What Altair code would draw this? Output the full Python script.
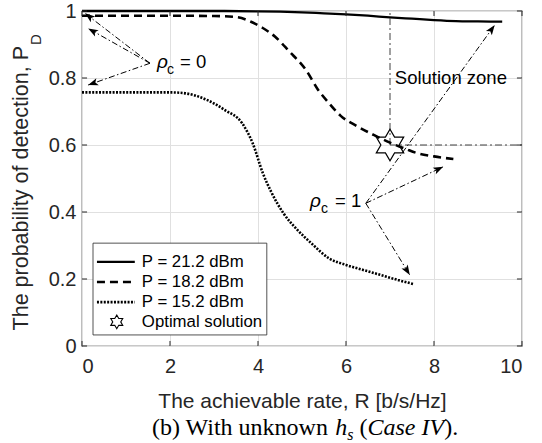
import math
import altair as alt
import pandas as pd

# ---------------- data ----------------
R_21 = [0, 1, 2, 3, 4, 4.5, 5, 5.5, 6, 6.5, 7, 7.5, 8, 8.5, 9, 9.55]
PD_21 = [1.0, 1.0, 1.0, 1.0, 0.999, 0.998, 0.996, 0.993, 0.99, 0.986, 0.981,
         0.977, 0.973, 0.970, 0.969, 0.968]

R_18 = [0, 1, 2, 3, 3.5, 3.84, 4.1, 4.39, 4.7, 5.1, 5.36, 5.62, 5.88, 6.24,
        6.63, 7.0, 7.38, 7.61, 8.0, 8.44]
PD_18 = [0.986, 0.986, 0.986, 0.985, 0.982, 0.968, 0.95, 0.923, 0.881, 0.822,
         0.766, 0.724, 0.687, 0.657, 0.630, 0.607, 0.587, 0.576, 0.566, 0.558]

R_15 = [0, 1, 2, 2.23, 2.85, 3.25, 3.64, 3.88, 4.11, 4.3, 4.58, 4.9, 5.21,
        5.61, 6.0, 6.39, 6.79, 7.18, 7.53]
PD_15 = [0.757, 0.757, 0.757, 0.756, 0.734, 0.704, 0.665, 0.605, 0.516, 0.46,
         0.396, 0.346, 0.307, 0.262, 0.242, 0.227, 0.212, 0.197, 0.185]

STAR_R = [7.0]
STAR_PD = [0.6]

X_TICKS = [0, 2, 4, 6, 8, 10]
Y_TICKS = [0, 0.2, 0.4, 0.6, 0.8, 1.0]

LEGEND_LABELS = ["P = 21.2 dBm", "P = 18.2 dBm", "P = 15.2 dBm", "Optimal solution"]
LEGEND_ROW_PD = [0.251, 0.191, 0.131, 0.072]

ARROW_FROM_R = [1.545, 1.545, 1.545, 6.45, 6.45, 6.45]
ARROW_FROM_PD = [0.844, 0.844, 0.844, 0.426, 0.426, 0.426]
ARROW_TO_R = [0.07, 0.14, 0.14, 9.38, 8.21, 7.45]
ARROW_TO_PD = [0.993, 0.948, 0.779, 0.958, 0.535, 0.212]

# ---------------- geometry / style ----------------
W, H = 440, 335
FONT = "Liberation Sans"
SERIF = "Liberation Serif"
INK = "#262626"
XS = alt.Scale(domain=[0, 10], nice=False, zero=False)
YS = alt.Scale(domain=[0, 1], nice=False, zero=False)

AX = alt.Axis(values=X_TICKS, format="d", grid=True, ticks=False, domain=False,
              labelFont=FONT, labelFontSize=20, labelColor=INK, labelPadding=10,
              title="The achievable rate, R [b/s/Hz]", titleFont=FONT,
              titleFontSize=21, titleFontWeight="normal", titleColor=INK,
              titleY=61, titleBaseline="alphabetic",
              gridColor="#e0e0e0", gridWidth=1)
AY = alt.Axis(values=Y_TICKS, format="~g", grid=True, ticks=False, domain=False,
              labelFont=FONT, labelFontSize=20, labelColor=INK, labelPadding=6,
              title="", gridColor="#e0e0e0", gridWidth=1)

HEXAGRAM = ("M0,-1L0.2887,-0.5L0.866,-0.5L0.5774,0L0.866,0.5L0.2887,0.5L0,1"
            "L-0.2887,0.5L-0.866,0.5L-0.5774,0L-0.866,-0.5L-0.2887,-0.5Z")
ARROWHEAD = "M0,0L0.42,1.15L0,0.88L-0.42,1.15Z"


def xq(f):
    return alt.X(f, type="quantitative", scale=XS, axis=AX)


def yq(f):
    return alt.Y(f, type="quantitative", scale=YS, axis=AY)


# ---------------- curves ----------------
df21 = pd.DataFrame({"r": R_21, "p": PD_21})
df18 = pd.DataFrame({"r": R_18, "p": PD_18})
df15 = pd.DataFrame({"r": R_15, "p": PD_15})

solid = alt.Chart(df21).mark_line(color="black", strokeWidth=2.3, interpolate="monotone").encode(
    x=xq("r"), y=yq("p"))
dashed = alt.Chart(df18).mark_line(color="black", strokeWidth=2.6, strokeDash=[8, 5],
                                   interpolate="monotone").encode(x=xq("r"), y=yq("p"))
dotted = alt.Chart(df15).mark_line(color="black", strokeWidth=2.6, strokeDash=[2, 1.4],
                                   interpolate="monotone").encode(x=xq("r"), y=yq("p"))

# ---------------- solution zone ----------------
zone_v = alt.Chart(pd.DataFrame({"r": STAR_R, "p": STAR_PD, "p2": [1.0]})).mark_rule(
    color="#404040", strokeWidth=1, strokeDash=[7, 3, 2, 3]).encode(
    x=xq("r"), y=yq("p"), y2="p2:Q")
zone_h = alt.Chart(pd.DataFrame({"r": STAR_R, "p": STAR_PD, "r2": [10.0]})).mark_rule(
    color="#404040", strokeWidth=1, strokeDash=[7, 3, 2, 3]).encode(
    x=xq("r"), x2="r2:Q", y=yq("p"))
zone_txt = alt.Chart(pd.DataFrame({"r": [7.11], "p": [0.8], "t": ["Solution zone"]})).mark_text(
    align="left", baseline="middle", font=FONT, fontSize=18.5, color="black").encode(
    x=xq("r"), y=yq("p"), text="t:N")

star = alt.Chart(pd.DataFrame({"r": STAR_R, "p": STAR_PD})).mark_point(
    shape=HEXAGRAM, size=1000, filled=False, stroke="black", strokeWidth=1.2, opacity=1).encode(
    x=xq("r"), y=yq("p"))

# ---------------- annotation arrows ----------------
ang = []
for x0, y0, x1, y1 in zip(ARROW_FROM_R, ARROW_FROM_PD, ARROW_TO_R, ARROW_TO_PD):
    dx = (x1 - x0) * W / 10.0
    dy = -(y1 - y0) * H / 1.0
    ang.append(math.degrees(math.atan2(dx, -dy)) % 360)
arr = pd.DataFrame({"r0": ARROW_FROM_R, "p0": ARROW_FROM_PD,
                    "r1": ARROW_TO_R, "p1": ARROW_TO_PD, "a": ang})
arrow_lines = alt.Chart(arr).mark_rule(color="black", strokeWidth=1,
                                       strokeDash=[6, 2.5, 1.5, 2.5]).encode(
    x=xq("r0"), y=yq("p0"), x2="r1:Q", y2="p1:Q")
arrow_heads = alt.Chart(arr).mark_point(shape=ARROWHEAD, size=300, filled=True,
                                        color="black", opacity=1).encode(
    x=xq("r1"), y=yq("p1"), angle=alt.Angle("a:Q", scale=None))

rho = pd.DataFrame({"r": [1.705, 5.182], "p": [0.830, 0.416], "t": ["ρ", "ρ"]})
sub = pd.DataFrame({"r": [1.932, 5.43], "p": [0.812, 0.398], "t": ["c", "c"]})
eq = pd.DataFrame({"r": [2.227, 5.75], "p": [0.830, 0.416], "t": ["= 0", "= 1"]})
rho_t = alt.Chart(rho).mark_text(align="left", baseline="alphabetic", font=FONT, fontSize=19,
                                 fontStyle="italic", color="black").encode(
    x=xq("r"), y=yq("p"), text="t:N")
sub_t = alt.Chart(sub).mark_text(align="left", baseline="alphabetic", font=FONT, fontSize=14,
                                 color="black").encode(x=xq("r"), y=yq("p"), text="t:N")
eq_t = alt.Chart(eq).mark_text(align="left", baseline="alphabetic", font=FONT, fontSize=18.5,
                               color="black").encode(x=xq("r"), y=yq("p"), text="t:N")

# ---------------- inward ticks ----------------
tk_y = pd.DataFrame({"p": Y_TICKS * 2,
                     "a": [0.0] * 6 + [9.885] * 6, "b": [0.115] * 6 + [10.0] * 6})
tk_x = pd.DataFrame({"r": X_TICKS * 2,
                     "a": [0.0] * 6 + [0.985] * 6, "b": [0.015] * 6 + [1.0] * 6})
ticks_y = alt.Chart(tk_y).mark_rule(color=INK, strokeWidth=1).encode(
    x=xq("a"), x2="b:Q", y=yq("p"))
ticks_x = alt.Chart(tk_x).mark_rule(color=INK, strokeWidth=1).encode(
    x=xq("r"), y=yq("a"), y2="b:Q")

# ---------------- legend ----------------
leg_box = alt.Chart(pd.DataFrame({"a": [0.25], "b": [4.2], "c": [0.033], "d": [0.307]})).mark_rect(
    fill="white", stroke=INK, strokeWidth=0.8).encode(x=xq("a"), x2="b:Q", y=yq("c"), y2="d:Q")
leg_styles = [dict(strokeWidth=2.3), dict(strokeWidth=2.6, strokeDash=[8, 5]),
              dict(strokeWidth=2.6, strokeDash=[2, 1.4])]
leg_lines = [
    alt.Chart(pd.DataFrame({"a": [0.34], "b": [1.2], "p": [LEGEND_ROW_PD[i]]})).mark_rule(
        color="black", **leg_styles[i]).encode(x=xq("a"), x2="b:Q", y=yq("p"))
    for i in range(3)
]
leg_star = alt.Chart(pd.DataFrame({"r": [0.79], "p": [LEGEND_ROW_PD[3]]})).mark_point(
    shape=HEXAGRAM, size=190, filled=False, stroke="black", strokeWidth=1.1, opacity=1).encode(
    x=xq("r"), y=yq("p"))
leg_text = alt.Chart(pd.DataFrame({"r": [1.36] * 4, "p": LEGEND_ROW_PD, "t": LEGEND_LABELS})).mark_text(
    align="left", baseline="middle", font=FONT, fontSize=16.8, color="black").encode(
    x=xq("r"), y=yq("p"), text="t:N")

# ---------------- y title (with subscript) ----------------
one = pd.DataFrame({"t": ["The probability of detection, P"]})
ytitle = alt.Chart(one).mark_text(angle=270, align="right", baseline="alphabetic", font=FONT,
                                  fontSize=21.5, color=INK).encode(
    text="t:N", x=alt.value(28 - 82), y=alt.value(46 - 11))
ysub = alt.Chart(pd.DataFrame({"t": ["D"]})).mark_text(angle=270, align="left", baseline="alphabetic",
                                                     font=FONT, fontSize=15, color=INK).encode(
    text="t:N", x=alt.value(41 - 82), y=alt.value(45 - 11))

# ---------------- caption ----------------
CB = 435
CAP = [("(b) With unknown", 152, CB, 24, "normal"),
       ("h", 335.3, CB, 24, "italic"),
       ("s", 347.3, CB + 5, 16, "italic"),
       ("(", 359.5, CB, 24, "normal"),
       ("Case IV", 367.5, CB, 24, "italic"),
       (").", 444.2, CB, 24, "normal")]
caps = [
    alt.Chart(pd.DataFrame({"t": [t]})).mark_text(align="left", baseline="alphabetic", font=SERIF,
                                                  fontSize=fs, fontStyle=st, color="black").encode(
        text="t:N", x=alt.value(x - 82), y=alt.value(y - 11))
    for (t, x, y, fs, st) in CAP
]

chart = alt.layer(
    solid, zone_v, zone_h, dashed, dotted, ticks_x, ticks_y,
    arrow_lines, arrow_heads, star, zone_txt, rho_t, sub_t, eq_t,
    leg_box, *leg_lines, leg_star, leg_text, ytitle, ysub, *caps,
).properties(
    width=W, height=H,
    padding={"left": 82, "top": 11, "right": 20, "bottom": 97},
    autosize=alt.AutoSizeParams(type="none"),
).configure_view(stroke=INK, strokeWidth=1.2)

chart.save("out.html", embed_options={"renderer": "svg", "actions": False})
